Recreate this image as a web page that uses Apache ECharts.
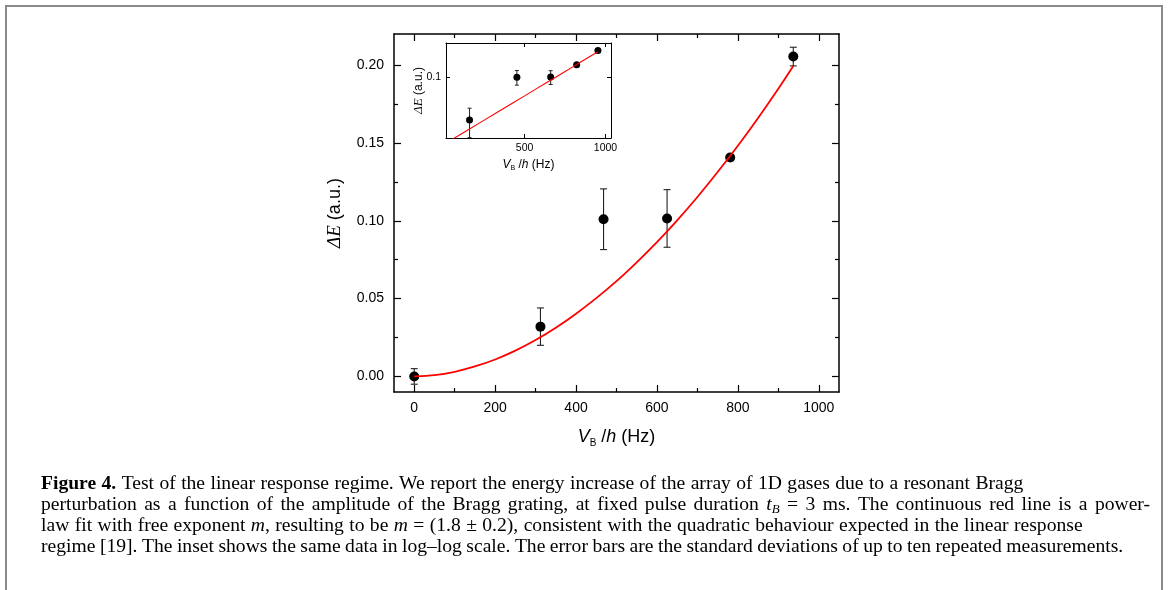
<!DOCTYPE html>
<html>
<head>
<meta charset="utf-8">
<script src="https://cdn.jsdelivr.net/npm/echarts@6/dist/echarts.min.js"></script>
<style>
html,body{margin:0;padding:0;background:#fff;}
#chart{width:1168px;height:590px;}
</style>
</head>
<body>
<div id="chart"></div>
<script>
// ---- data ----
const freq = [0, 312, 468, 625, 781, 937];              // V_B/h (Hz)
const energy = [0.000, 0.032, 0.101, 0.1015, 0.1406, 0.2055]; // ΔE (a.u.)
const energyErr = [0.005, 0.012, 0.0195, 0.0185, 0.002, 0.006];
const fitFreq = [0, 50, 100, 150, 200, 250, 300, 350, 400, 450, 500, 550, 600, 650, 700, 750, 800, 850, 900, 937];
const fitEnergy = [0, 0.0008, 0.0030, 0.0064, 0.0109, 0.0166, 0.0234, 0.0313, 0.0403, 0.0503, 0.0612, 0.0733, 0.0863, 0.1003, 0.1153, 0.1313, 0.1482, 0.1661, 0.1849, 0.1995];
const xMajorTicks = [0, 200, 400, 600, 800, 1000];
const xMinorTicks = [100, 300, 500, 700, 900];
const yMajorTicks = [0, 0.05, 0.10, 0.15, 0.20];
const yMinorTicks = [0.025, 0.075, 0.125, 0.175];
const insetXTicks = [500, 1000];
const insetYTicks = [0.1];

const pts = freq.map((x, i) => [x, energy[i]]);
const errPts = freq.map((x, i) => [x, energy[i], energyErr[i]]);
const fitPts = fitFreq.map((x, i) => [x, fitEnergy[i]]);
const insetPts = pts.filter(p => p[0] > 0 && p[1] > 0);
const insetErr = errPts.filter(p => p[0] > 0 && p[1] > 0);
const insetFit = fitPts.filter(p => p[0] > 0 && p[1] > 0);

const SANS = 'Liberation Sans';
const SERIF = 'Liberation Serif';

function errRender(capW, lw) {
  return function (params, api) {
    const x = api.value(0), y = api.value(1), e = api.value(2);
    const top = api.coord([x, y + e]);
    const bot = api.coord([x, y - e]);
    const st = { stroke: '#222', lineWidth: lw };
    return {
      type: 'group',
      children: [
        { type: 'line', shape: { x1: top[0], y1: top[1], x2: bot[0], y2: bot[1] }, style: st },
        { type: 'line', shape: { x1: top[0] - capW / 2, y1: top[1], x2: top[0] + capW / 2, y2: top[1] }, style: st },
        { type: 'line', shape: { x1: bot[0] - capW / 2, y1: bot[1], x2: bot[0] + capW / 2, y2: bot[1] }, style: st }
      ]
    };
  };
}

const axLine = { show: true, onZero: false, lineStyle: { color: '#000', width: 1.5 } };
const noLine = { show: false, onZero: false };
const inLine = { show: true, onZero: false, lineStyle: { color: '#000', width: 1 } };
const plainNum = v => String(v);

function valAxis(o) {
  return Object.assign({
    type: 'value', splitLine: { show: false }, axisLine: noLine,
    axisLabel: { show: false }, axisTick: { show: false }
  }, o);
}

const nameRichMain = {
  v: { fontFamily: SANS, fontStyle: 'italic', fontSize: 18, color: '#000', lineHeight: 22, verticalAlign: 'middle' },
  sub: { fontFamily: SANS, fontSize: 10, color: '#000', lineHeight: 8, verticalAlign: 'bottom' },
  n: { fontFamily: SANS, fontSize: 18, color: '#000', lineHeight: 22, verticalAlign: 'middle' },
  e: { fontFamily: SERIF, fontStyle: 'italic', fontSize: 19, color: '#000', lineHeight: 22, verticalAlign: 'middle' }
};
const nameRichInset = {
  v: { fontFamily: SANS, fontStyle: 'italic', fontSize: 12, color: '#000', lineHeight: 15, verticalAlign: 'middle' },
  sub: { fontFamily: SANS, fontSize: 7, color: '#000', lineHeight: 5, verticalAlign: 'bottom' },
  n: { fontFamily: SANS, fontSize: 12, color: '#000', lineHeight: 15, verticalAlign: 'middle' },
  e: { fontFamily: SERIF, fontStyle: 'italic', fontSize: 13, color: '#000', lineHeight: 15, verticalAlign: 'middle' }
};

// ---- caption ----
const captionLines = [
  [['b', 'Figure 4.'], ['t', ' Test of the linear response regime. We report the energy increase of the array of 1D gases due to a resonant Bragg']],
  [['t', 'perturbation as a function of the amplitude of the Bragg grating, at fixed pulse duration '], ['i', 't'], ['isub', 'B'], ['t', ' = 3 ms. The continuous red line is a power-']],
  [['t', 'law fit with free exponent '], ['i', 'm'], ['t', ', resulting to be '], ['i', 'm'], ['t', ' = (1.8 ± 0.2), consistent with the quadratic behaviour expected in the linear response']],
  [['t', 'regime ['], ['c', '19'], ['t', ']. The inset shows the same data in log–log scale. The error bars are the standard deviations of up to ten repeated measurements.']]
];
const captionSpace = [5.4, 7.4, 5.4, 4.5];
const captionY = [484, 505, 526, 547];

function captionRich(spaceW) {
  const fs = 19.6, lh = 22, col = '#1a1a1a';
  return {
    t: { fontFamily: SERIF, fontSize: fs, color: col, lineHeight: lh, verticalAlign: 'middle' },
    b: { fontFamily: SERIF, fontSize: fs, fontWeight: 'bold', color: col, lineHeight: lh, verticalAlign: 'middle' },
    i: { fontFamily: SERIF, fontSize: fs, fontStyle: 'italic', color: col, lineHeight: lh, verticalAlign: 'middle' },
    isub: { fontFamily: SERIF, fontSize: 13, fontStyle: 'italic', color: col, lineHeight: 8, verticalAlign: 'bottom' },
    c: { fontFamily: SERIF, fontSize: fs, color: '#2b7bb9', lineHeight: lh, verticalAlign: 'middle' },
    sp: { fontFamily: SERIF, fontSize: fs, color: col, lineHeight: lh, verticalAlign: 'middle', width: spaceW }
  };
}
function captionText(parts) {
  let s = '';
  parts.forEach(([st, txt]) => {
    txt.split(' ').forEach((w, k) => {
      if (k > 0) s += '{sp| }';
      if (w.length) s += '{' + st + '|' + w + '}';
    });
  });
  return s;
}
const captionGraphics = captionLines.map((parts, i) => ({
  type: 'text', x: 41, y: captionY[i], silent: true,
  style: { text: captionText(parts), verticalAlign: 'middle', rich: captionRich(captionSpace[i]) }
}));

const option = {
  animation: false,
  backgroundColor: '#fff',
  grid: [
    { left: 394, top: 34, width: 445, height: 358, containLabel: false },
    { left: 446, top: 43, width: 165, height: 95, containLabel: false }
  ],
  xAxis: [
    valAxis({ gridIndex: 0, position: 'bottom', min: -50, max: 1050, axisLine: axLine,
      axisTick: { show: true, inside: true, length: 7, customValues: xMajorTicks, lineStyle: { color: '#000', width: 1.2 } },
      axisLabel: { show: true, customValues: xMajorTicks, fontFamily: SANS, fontSize: 14, color: '#000', margin: 9, formatter: plainNum },
      name: '{v|V}{sub|B}{n| /}{v|h}{n| (Hz)}', nameLocation: 'middle', nameGap: 34,
      nameTextStyle: { rich: nameRichMain } }),
    valAxis({ gridIndex: 0, position: 'bottom', min: -50, max: 1050,
      axisTick: { show: true, inside: true, length: 4, customValues: xMinorTicks, lineStyle: { color: '#000', width: 1.2 } } }),
    valAxis({ gridIndex: 0, position: 'top', min: -50, max: 1050, axisLine: axLine,
      axisTick: { show: true, inside: true, length: 7, customValues: xMajorTicks, lineStyle: { color: '#000', width: 1.2 } } }),
    valAxis({ gridIndex: 0, position: 'top', min: -50, max: 1050,
      axisTick: { show: true, inside: true, length: 4, customValues: xMinorTicks, lineStyle: { color: '#000', width: 1.2 } } }),
    { type: 'log', gridIndex: 1, position: 'bottom', min: 255, max: 1048, splitLine: { show: false },
      axisLine: inLine,
      axisTick: { show: true, inside: true, length: 4, customValues: insetXTicks, lineStyle: { color: '#000', width: 1 } },
      axisLabel: { show: true, customValues: insetXTicks, fontFamily: SANS, fontSize: 10.5, color: '#000', margin: 5, formatter: plainNum },
      name: '{v|V}{sub|B}{n| /}{v|h}{n| (Hz)}', nameLocation: 'middle', nameGap: 19,
      nameTextStyle: { rich: nameRichInset } },
    { type: 'log', gridIndex: 1, position: 'top', min: 255, max: 1048, splitLine: { show: false },
      axisLine: inLine,
      axisTick: { show: true, inside: true, length: 4, customValues: insetXTicks, lineStyle: { color: '#000', width: 1 } },
      axisLabel: { show: false } }
  ],
  yAxis: [
    valAxis({ gridIndex: 0, position: 'left', min: -0.01, max: 0.22, axisLine: axLine,
      axisTick: { show: true, inside: true, length: 7, customValues: yMajorTicks, lineStyle: { color: '#000', width: 1.2 } },
      axisLabel: { show: true, customValues: yMajorTicks, fontFamily: SANS, fontSize: 14, color: '#000', margin: 10,
        formatter: v => v.toFixed(2) },
      name: '{e|ΔE}{n| (a.u.)}', nameLocation: 'middle', nameGap: 48, nameRotate: 90, nameMoveOverlap: false,
      nameTextStyle: { rich: nameRichMain } }),
    valAxis({ gridIndex: 0, position: 'left', min: -0.01, max: 0.22,
      axisTick: { show: true, inside: true, length: 4, customValues: yMinorTicks, lineStyle: { color: '#000', width: 1.2 } } }),
    valAxis({ gridIndex: 0, position: 'right', min: -0.01, max: 0.22, axisLine: axLine,
      axisTick: { show: true, inside: true, length: 7, customValues: yMajorTicks, lineStyle: { color: '#000', width: 1.2 } } }),
    valAxis({ gridIndex: 0, position: 'right', min: -0.01, max: 0.22,
      axisTick: { show: true, inside: true, length: 4, customValues: yMinorTicks, lineStyle: { color: '#000', width: 1.2 } } }),
    { type: 'log', gridIndex: 1, position: 'left', min: 0.0198, max: 0.252, splitLine: { show: false },
      axisLine: inLine,
      axisTick: { show: true, inside: true, length: 4, customValues: insetYTicks, lineStyle: { color: '#000', width: 1 } },
      axisLabel: { show: true, customValues: insetYTicks, fontFamily: SANS, fontSize: 10.5, color: '#000', margin: 5, formatter: plainNum },
      name: '{e|ΔE}{n| (a.u.)}', nameLocation: 'middle', nameGap: 20, nameRotate: 90, nameMoveOverlap: false,
      nameTextStyle: { rich: nameRichInset } },
    { type: 'log', gridIndex: 1, position: 'right', min: 0.0198, max: 0.252, splitLine: { show: false },
      axisLine: inLine,
      axisTick: { show: true, inside: true, length: 4, customValues: insetYTicks, lineStyle: { color: '#000', width: 1 } },
      axisLabel: { show: false } }
  ],
  series: [
    { type: 'line', xAxisIndex: 0, yAxisIndex: 0, data: fitPts, showSymbol: false, smooth: 0.3,
      lineStyle: { color: '#ff0000', width: 1.8 }, clip: true, silent: true },
    { type: 'custom', xAxisIndex: 0, yAxisIndex: 0, data: errPts, renderItem: errRender(7, 1.1), silent: true },
    { type: 'scatter', xAxisIndex: 0, yAxisIndex: 0, data: pts, symbol: 'circle', symbolSize: 10,
      itemStyle: { color: '#000', opacity: 1 }, silent: true },
    { type: 'line', xAxisIndex: 4, yAxisIndex: 4, data: insetFit, showSymbol: false,
      lineStyle: { color: '#ff0000', width: 1.1 }, clip: true, silent: true },
    { type: 'custom', xAxisIndex: 4, yAxisIndex: 4, data: insetErr, renderItem: errRender(4, 1), silent: true },
    { type: 'scatter', xAxisIndex: 4, yAxisIndex: 4, data: insetPts, symbol: 'circle', symbolSize: 7,
      itemStyle: { color: '#000', opacity: 1 }, silent: true }
  ],
  graphic: [
    { type: 'rect', shape: { x: 6, y: 6, width: 1156, height: 620 }, style: { fill: 'none', stroke: '#8a8a8a', lineWidth: 2 }, silent: true }
  ].concat(captionGraphics)
};

const chart = echarts.init(document.getElementById('chart'), null, { renderer: 'canvas' });
chart.setOption(option);
</script>
</body>
</html>
